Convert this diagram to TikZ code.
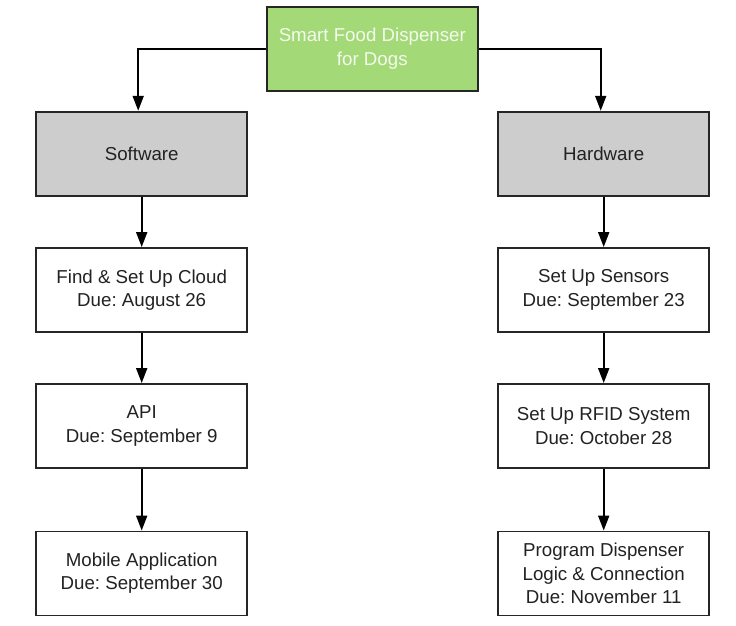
\documentclass[tikz,border=0pt]{standalone}
\usepackage{fontspec}
\setmainfont{Liberation Sans}
\usetikzlibrary{arrows.meta}
\definecolor{topgreen}{HTML}{A3D977}
\definecolor{boxgray}{HTML}{CDCDCD}
\definecolor{txt}{HTML}{222222}
\definecolor{toptxt}{HTML}{F4FAEE}
\tikzset{
  box/.style={draw=black!85, line width=1.9pt, minimum width=211pt, minimum height=84pt,
    inner sep=0pt, align=center, text=txt, font=\frenchspacing\fontsize{18.7}{23.3}\selectfont},
  topbox/.style={box, fill=topgreen, text=toptxt},
  graybox/.style={box, fill=boxgray},
  whitebox/.style={box, fill=white},
  conn/.style={draw=black, line width=1.9pt, -{Triangle[length=15pt,width=11pt]}}
}
\begin{document}
\begin{tikzpicture}[x=1pt,y=-1pt]
\useasboundingbox (0,0) rectangle (736,626);
\node[topbox] (top) at (372.3,48.7) {Smart Food Dispenser\\for Dogs};
\node[graybox] (soft) at (141.7,153.7) {Software};
\node[graybox] (hard) at (603.7,153.7) {Hardware};
\node[whitebox] (find) at (141.7,290) {Find \& Set Up Cloud\\Due: August 26};
\node[whitebox] (api) at (141.7,426) {API\\Due: September 9};
\node[whitebox] (mob) at (141.7,573.5) {Mobile Application\\Due: September 30};
\node[whitebox] (sens) at (603.7,290) {Set Up Sensors\\Due: September 23};
\node[whitebox] (rfid) at (603.7,426) {Set Up RFID System\\Due: October 28};
\node[whitebox] (prog) at (603.7,573.5) {Program Dispenser\\Logic \& Connection\\Due: November 11};
\draw[conn] (top.west) -| ([xshift=-3.5pt]soft.north);
\draw[conn] (top.east) -| ([xshift=-3pt]hard.north);
\draw[conn] (soft) -- (find);
\draw[conn] (find) -- (api);
\draw[conn] (api) -- (mob);
\draw[conn] (hard) -- (sens);
\draw[conn] (sens) -- (rfid);
\draw[conn] (rfid) -- (prog);
\end{tikzpicture}
\end{document}
